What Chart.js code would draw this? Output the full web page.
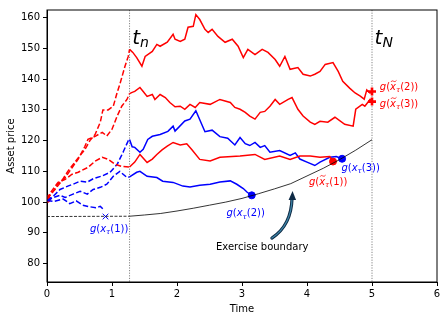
<!DOCTYPE html>
<html lang="en">
<head>
<meta charset="UTF-8">
<title>Exercise boundary paths</title>
<script src="https://cdn.jsdelivr.net/npm/chart.js"></script>
<style>
  html, body { margin: 0; padding: 0; background: #fff; }
</style>
</head>
<body>
<canvas id="chart" width="448" height="320"></canvas>
<script>
// times of the two vertical markers
const tn = 1.27;
const tN = 5;

const xTicks = [0, 1, 2, 3, 4, 5, 6];
const yTicks = [80, 90, 100, 110, 120, 130, 140, 150, 160];

// red paths, dashed before t_n and solid after
const redDashA = [[0,101],[0.05,102.5],[0.12,104],[0.23,107],[0.32,110],[0.43,113],[0.54,116],[0.58,117],[0.66,120],[0.74,122],[0.82,126],[0.86,130],[0.94,130],[1.02,131.2],[1.08,135.7],[1.12,138.3],[1.2,144.2],[1.25,147.4],[1.27,149.7]];
const redDashB = [[0,101],[0.08,103],[0.17,106],[0.28,108],[0.38,111],[0.48,114],[0.58,118],[0.63,120.4],[0.74,121.4],[0.85,122.7],[0.92,121.5],[1.0,123.7],[1.08,128],[1.15,131.2],[1.23,133.4],[1.27,135.3]];
const redDashC = [[0,101],[0.05,103],[0.17,106.4],[0.28,107.4],[0.38,109],[0.48,109.7],[0.63,111.3],[0.74,113.3],[0.85,114.6],[0.94,113.9],[1.05,112.3],[1.15,111.6],[1.27,111.4]];

const redSolidA = [[1.27,149.7],[1.32,148.7],[1.38,147],[1.46,144.2],[1.51,147.4],[1.62,149],[1.69,151.3],[1.74,150.7],[1.85,152],[1.94,154.6],[1.97,153],[2.05,152.3],[2.12,153],[2.17,156.9],[2.25,157.2],[2.29,161],[2.35,159.4],[2.43,156.2],[2.48,155.2],[2.54,156.2],[2.63,153.9],[2.74,152],[2.85,153],[2.94,150.7],[3.02,147],[3.09,149.7],[3.2,148],[3.31,149.7],[3.4,148.7],[3.51,146.4],[3.58,144.2],[3.66,147.4],[3.74,143.2],[3.86,143.8],[3.94,141.6],[4.05,141],[4.12,141.6],[4.2,142.5],[4.28,144.8],[4.4,145.4],[4.48,142.5],[4.55,139.3],[4.66,137],[4.74,135.5],[4.82,134.5],[4.88,133.5],[4.92,136.5],[4.97,135.5],[5.0,136]];
const redSolidB = [[1.27,135.3],[1.31,135.7],[1.35,136],[1.43,137.3],[1.48,136],[1.54,134.4],[1.62,135],[1.66,133.4],[1.74,135],[1.82,134],[1.89,132.4],[1.97,131],[2.05,131.2],[2.12,130.2],[2.2,131.8],[2.28,130.8],[2.35,132.4],[2.51,131.8],[2.66,133.4],[2.82,132.4],[2.89,130.8],[2.97,130.2],[3.05,129.2],[3.12,128],[3.2,127],[3.28,129.2],[3.35,129.5],[3.43,131.2],[3.51,133.4],[3.58,131.8],[3.71,133.4],[3.77,134],[3.86,130.2],[3.94,128],[4.05,126],[4.12,125.3],[4.2,126.3],[4.32,126],[4.43,127.6],[4.58,125.3],[4.71,124.7],[4.75,130.2],[4.85,131.8],[4.89,131.2],[4.97,133.4],[5.0,132.7]];
const redSolidC = [[1.27,111.4],[1.35,113],[1.43,115.5],[1.54,112.9],[1.62,114],[1.69,115.5],[1.77,117],[1.85,118.2],[1.94,119.4],[2.05,118.6],[2.15,119],[2.23,117],[2.35,113.9],[2.51,113.4],[2.66,114.6],[2.97,115],[3.2,115.5],[3.35,113.9],[3.58,115],[3.74,113.9],[3.89,115],[4.05,115],[4.2,114.6],[4.35,114.8],[4.4,113.2]];

// blue paths
const blueDash1 = [[0,100.5],[0.1,100.2],[0.25,101],[0.35,99.5],[0.45,100.4],[0.55,99],[0.65,98.5],[0.75,98.2],[0.82,98.6],[0.88,97.4]];
const blueDash2 = [[0,100.5],[0.1,102],[0.2,104.1],[0.32,105.2],[0.4,105.8],[0.51,106.8],[0.62,106.5],[0.71,107.6],[0.86,108.6],[0.97,109.7],[1.08,112.3],[1.17,116.2],[1.25,120],[1.27,120.4]];
const blueDash3 = [[0,100.5],[0.1,101.5],[0.2,102.2],[0.28,101.5],[0.4,102.6],[0.51,103.5],[0.62,102.6],[0.71,104.1],[0.82,104.8],[0.92,105.8],[1.02,108.4],[1.12,110],[1.23,108],[1.27,108.2]];
const blueSolidUp = [[1.27,120.4],[1.31,118],[1.35,117.8],[1.43,116.2],[1.48,117.2],[1.55,120.4],[1.62,121.4],[1.74,122],[1.86,123],[1.94,124.7],[1.97,123.1],[2.12,126.4],[2.2,127],[2.29,129.7],[2.43,122.9],[2.54,123.4],[2.66,121.3],[2.78,120.8],[2.89,118.6],[2.97,121],[3.05,119],[3.12,118.4],[3.2,119.4],[3.28,117.8],[3.35,118.4],[3.43,116.2],[3.58,116.8],[3.74,115.2],[3.82,116],[3.89,114],[4.0,113],[4.12,111.9],[4.2,113],[4.35,114.6],[4.45,114.8],[4.54,114.1]];
const blueSolidLow = [[1.27,108.2],[1.38,109.7],[1.43,110],[1.54,108.4],[1.69,108],[1.78,106.8],[1.94,106.4],[2.09,105.2],[2.2,104.9],[2.35,105.5],[2.51,105.8],[2.66,106.5],[2.82,106.9],[2.92,105.8],[3.02,104.4],[3.08,103.2],[3.15,102.2]];

// exercise boundary
const boundary = [[1.27,95.4],[1.5,95.8],[1.75,96.3],[2.0,97.1],[2.25,98.0],[2.5,99.0],[2.75,100.0],[3.0,101.2],[3.25,102.7],[3.5,104.3],[3.75,106.0],[4.0,108.5],[4.25,111.0],[4.5,113.8],[4.75,116.9],[5.0,120.3]];
const boundaryFlat = [[0,95.3],[1.27,95.4]];

// markers
const startDot = [[0,101]];
const blueStops = [[3.15,102.2],[4.54,114.1]];
const redStop = [[4.4,113.2]];
const redEnds = [[5,136],[5,132.7]];
const blueCross = [[0.9,95.3]];

const xy = arr => arr.map(p => ({x: p[0], y: p[1]}));

function pathSet(arr, color, dashed, width) {
  return {
    data: xy(arr), showLine: true, borderColor: color, backgroundColor: color,
    borderWidth: width || 1.5, borderDash: dashed ? [5.5, 2.4] : [], pointRadius: 0, tension: 0
  };
}
function markSet(arr, color, style, r, bw) {
  return {
    data: xy(arr), showLine: false, pointStyle: style, pointRadius: r,
    borderColor: color, backgroundColor: color, borderWidth: bw || 1
  };
}

const FONT = '"DejaVu Sans", sans-serif';

function gLabel(ctx, x, y, k, tilde, color) {
  const fs = 10;
  ctx.save();
  ctx.fillStyle = color;
  ctx.strokeStyle = color;
  ctx.textBaseline = 'middle';
  ctx.textAlign = 'left';
  let cx = x;
  const put = (s, font, dy) => {
    ctx.font = font;
    ctx.fillText(s, cx, y + (dy || 0));
    const w = ctx.measureText(s).width;
    cx += w;
    return w;
  };
  put('g', 'italic ' + fs + 'px ' + FONT);
  put('(', fs + 'px ' + FONT);
  const xs = cx;
  const wx = put('x', 'italic ' + fs + 'px ' + FONT);
  if (tilde) {
    ctx.lineWidth = 0.8;
    ctx.beginPath();
    ctx.moveTo(xs + 1, y - 5.5);
    ctx.bezierCurveTo(xs + 2.5, y - 8.5, xs + 4, y - 4, xs + wx + 0.5, y - 7);
    ctx.stroke();
  }
  put('\u03c4', 'italic 7px ' + FONT, 3);
  put('(' + k + '))', fs + 'px ' + FONT);
  ctx.restore();
}

function tLabel(ctx, x, y, sub) {
  ctx.save();
  ctx.fillStyle = '#000';
  ctx.textBaseline = 'alphabetic';
  ctx.textAlign = 'left';
  ctx.font = 'italic 20px ' + FONT;
  ctx.fillText('t', x, y);
  const w = ctx.measureText('t').width;
  ctx.font = 'italic 14px ' + FONT;
  ctx.fillText(sub, x + w, y + 3);
  ctx.restore();
}

const overlay = {
  id: 'overlay',
  beforeDatasetsDraw(chart) {
    const {ctx, chartArea: a, scales: {x}} = chart;
    ctx.save();
    ctx.strokeStyle = '#333';
    ctx.lineWidth = 0.6;
    ctx.setLineDash([1.2, 1.4]);
    [tn, tN].forEach(t => {
      const px = x.getPixelForValue(t);
      ctx.beginPath();
      ctx.moveTo(px, a.top);
      ctx.lineTo(px, a.bottom);
      ctx.stroke();
    });
    ctx.restore();
  },
  afterDatasetsDraw(chart) {
    const {ctx, chartArea: a, scales: {x, y}} = chart;
    const P = (t, v) => [x.getPixelForValue(t), y.getPixelForValue(v)];

    tLabel(ctx, ...P(1.31, 151.4), 'n');
    tLabel(ctx, ...P(5.04, 151.4), 'N');

    gLabel(ctx, ...P(0.66, 91.2), 1, false, '#0000ff');
    gLabel(ctx, ...P(2.76, 96.2), 2, false, '#0000ff');
    gLabel(ctx, ...P(4.53, 111.0), 3, false, '#0000ff');
    gLabel(ctx, ...P(4.03, 106.5), 1, true, '#ff0000');
    gLabel(ctx, ...P(5.12, 137.3), 2, true, '#ff0000');
    gLabel(ctx, ...P(5.12, 131.8), 3, true, '#ff0000');

    ctx.save();
    ctx.fillStyle = '#000';
    ctx.font = '10px ' + FONT;
    ctx.textBaseline = 'middle';
    ctx.textAlign = 'left';
    const [ex, ey] = P(2.6, 85.2);
    ctx.fillText('Exercise boundary', ex, ey);
    ctx.restore();

    // curved arrow towards the boundary
    const [sx, sy] = P(3.46, 88.3);
    const [qx, qy] = P(3.76, 92.5);
    const [hx, hy] = P(3.77, 103.3);
    ctx.save();
    ctx.lineCap = 'round';
    ctx.strokeStyle = '#0e2a45';
    ctx.lineWidth = 3.2;
    ctx.beginPath();
    ctx.moveTo(sx, sy);
    ctx.quadraticCurveTo(qx, qy, hx, hy + 6);
    ctx.stroke();
    ctx.strokeStyle = '#3f86a8';
    ctx.lineWidth = 1.2;
    ctx.beginPath();
    ctx.moveTo(sx, sy);
    ctx.quadraticCurveTo(qx, qy, hx, hy + 6);
    ctx.stroke();
    ctx.fillStyle = '#0e2a45';
    ctx.beginPath();
    ctx.moveTo(hx + 0.5, hy - 1);
    ctx.lineTo(hx - 3.5, hy + 8);
    ctx.lineTo(hx + 4, hy + 8);
    ctx.closePath();
    ctx.fill();
    ctx.restore();

    // axes frame
    ctx.save();
    ctx.strokeStyle = '#000';
    ctx.lineWidth = 1;
    ctx.strokeRect(a.left, a.top, a.right - a.left, a.bottom - a.top);
    ctx.restore();
  }
};

const datasets = [
  pathSet(boundaryFlat, '#000', false, 0.8),
  pathSet(boundary, '#000', false, 0.8),
  pathSet(redDashA, '#ff0000', true),
  pathSet(redDashB, '#ff0000', true),
  pathSet(redDashC, '#ff0000', true),
  pathSet(redSolidA, '#ff0000', false),
  pathSet(redSolidB, '#ff0000', false),
  pathSet(redSolidC, '#ff0000', false),
  pathSet(blueDash1, '#0000ff', true),
  pathSet(blueDash2, '#0000ff', true),
  pathSet(blueDash3, '#0000ff', true),
  pathSet(blueSolidUp, '#0000ff', false),
  pathSet(blueSolidLow, '#0000ff', false),
  markSet(startDot, '#ff0000', 'circle', 3.5),
  markSet(blueStops, '#0000ff', 'circle', 3.5),
  markSet(redStop, '#ff0000', 'circle', 3.5),
  markSet(redEnds, '#ff0000', 'cross', 4, 2.6),
  markSet(blueCross, '#0000ff', 'crossRot', 4, 1)
];
datasets[0].borderDash = [3, 1.5];

new Chart(document.getElementById('chart'), {
  type: 'scatter',
  data: { datasets },
  options: {
    responsive: false,
    animation: false,
    layout: { padding: { top: 10, right: 11, left: 0, bottom: 0 } },
    plugins: { legend: { display: false }, tooltip: { enabled: false } },
    scales: {
      x: {
        type: 'linear', min: 0, max: 6,
        afterBuildTicks: s => { s.ticks = xTicks.map(v => ({value: v})); },
        afterFit: s => { s.height = 38; },
        ticks: { color: '#000', font: { family: FONT, size: 10 }, padding: 2, maxRotation: 0 },
        grid: { drawOnChartArea: false, drawTicks: true, tickLength: 4, color: '#000' },
        border: { display: true, color: '#000' },
        title: { display: true, text: 'Time', color: '#000', font: { family: FONT, size: 10 }, padding: { top: 1, bottom: 5 } }
      },
      y: {
        type: 'linear', min: 74, max: 162.5,
        afterBuildTicks: s => { s.ticks = yTicks.map(v => ({value: v})); },
        afterFit: s => { s.width = 47; },
        ticks: { color: '#000', font: { family: FONT, size: 10 }, padding: 3 },
        grid: { drawOnChartArea: false, drawTicks: true, tickLength: 4, color: '#000' },
        border: { display: true, color: '#000' },
        title: { display: true, text: 'Asset price', color: '#000', font: { family: FONT, size: 10 }, padding: { top: 5, bottom: 2 } }
      }
    }
  },
  plugins: [overlay]
});
</script>
</body>
</html>
